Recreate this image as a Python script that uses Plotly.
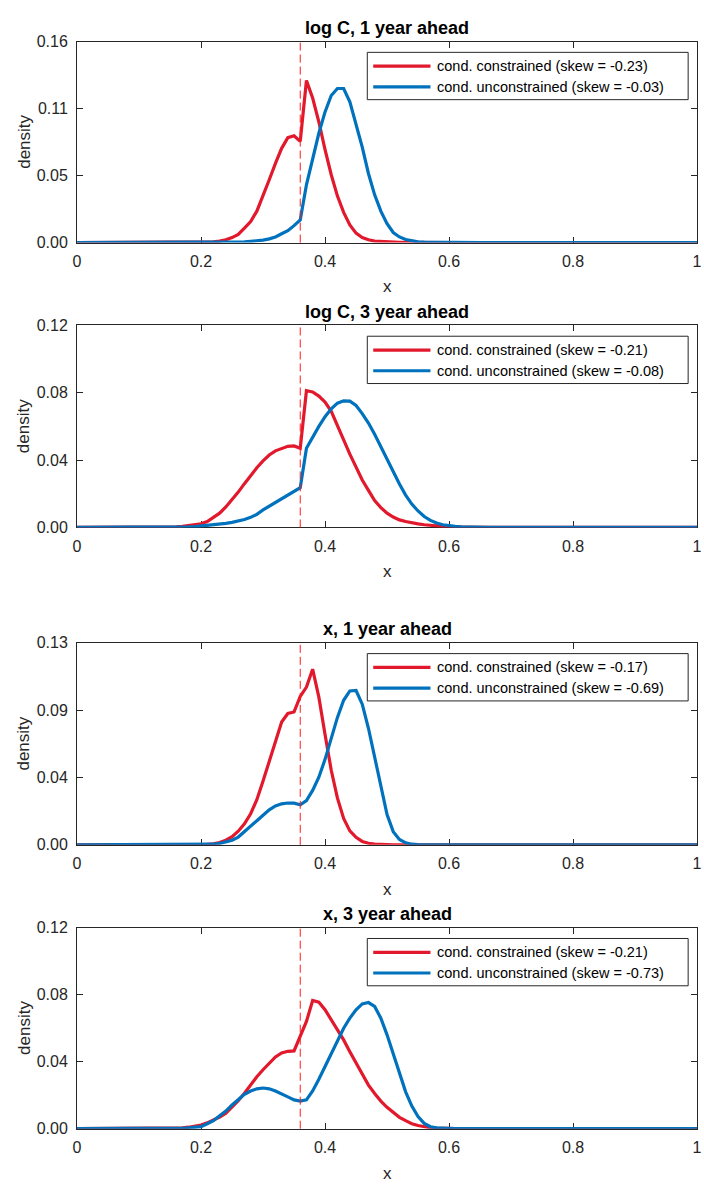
import numpy as np
import plotly.graph_objects as go

# ---------------- data ----------------
# common x grid: 0, 0.14 ... 0.68 (step 0.01), 1
x_grid = [0.00] + [round(0.14 + 0.01 * i, 2) for i in range(55)] + [1.00]

panel_titles = ["log C, 1 year ahead", "log C, 3 year ahead", "x, 1 year ahead", "x, 3 year ahead"]
threshold = 0.36
y_max = [0.16, 0.12, 0.13, 0.12]
ytick_text = [
    ["0.00", "0.05", "0.11", "0.16"],
    ["0.00", "0.04", "0.08", "0.12"],
    ["0.00", "0.04", "0.09", "0.13"],
    ["0.00", "0.04", "0.08", "0.12"],
]
xtick_vals = [0, 0.2, 0.4, 0.6, 0.8, 1.0]
xtick_text = ["0", "0.2", "0.4", "0.6", "0.8", "1"]

skew_constrained = [-0.23, -0.21, -0.17, -0.21]
skew_unconstrained = [-0.03, -0.08, -0.69, -0.73]

logc1_constrained = [0.0,
    0, 0, 0, 0, 0.0001, 0.0002, 0.0003, 0.0004, 0.0006, 0.0012,
    0.0022, 0.004, 0.0065, 0.0115, 0.0167, 0.025, 0.037, 0.050, 0.063, 0.075,
    0.0835, 0.085, 0.0805, 0.129, 0.115, 0.096, 0.074, 0.054, 0.037, 0.024,
    0.014, 0.0075, 0.004, 0.0022, 0.0012, 0.0008, 0.0005, 0.0003, 0.0002, 0.0001,
    0, 0, 0, 0, 0, 0, 0, 0, 0, 0, 0, 0, 0, 0, 0,
    0.0]
logc1_unconstrained = [0.0,
    0, 0, 0, 0, 0, 0, 0, 0, 0, 0.0001,
    0.0002, 0.0002, 0.0003, 0.0006, 0.001, 0.0014, 0.002, 0.003, 0.0045, 0.007,
    0.0095, 0.0135, 0.018, 0.046, 0.067, 0.087, 0.104, 0.117, 0.1226, 0.1226,
    0.112, 0.095, 0.076, 0.055, 0.038, 0.025, 0.015, 0.008, 0.0045, 0.0024,
    0.0012, 0.0006, 0.0003, 0.0002, 0.0001, 0, 0, 0, 0, 0, 0, 0, 0, 0, 0,
    0.0]
logc3_constrained = [0.0,
    0.0001, 0.0002, 0.0004, 0.0007, 0.0011, 0.0016, 0.0022, 0.0035, 0.0058, 0.0085,
    0.0122, 0.0165, 0.021, 0.026, 0.031, 0.0355, 0.0395, 0.043, 0.0455, 0.047,
    0.0482, 0.0484, 0.047, 0.0812, 0.0805, 0.078, 0.0745, 0.069, 0.061, 0.052,
    0.0435, 0.0355, 0.0282, 0.022, 0.016, 0.0118, 0.0085, 0.0062, 0.0045, 0.0035,
    0.0027, 0.0021, 0.0016, 0.0012, 0.0008, 0.0005, 0.0003, 0.0002, 0.0001, 0,
    0, 0, 0, 0, 0,
    0.0]
logc3_unconstrained = [0.0,
    0, 0.0001, 0.0001, 0.0002, 0.0003, 0.0005, 0.0008, 0.0011, 0.0015, 0.0019,
    0.0024, 0.003, 0.0038, 0.0047, 0.006, 0.0078, 0.0104, 0.0126, 0.0148, 0.0171,
    0.0193, 0.0215, 0.0236, 0.047, 0.054, 0.060, 0.0658, 0.0705, 0.0738, 0.0752,
    0.075, 0.0724, 0.0676, 0.062, 0.0553, 0.0478, 0.0402, 0.0328, 0.0258, 0.0192,
    0.0139, 0.0098, 0.0065, 0.0042, 0.0026, 0.0016, 0.001, 0.0006, 0.0004, 0.0002,
    0.0001, 0, 0, 0, 0,
    0.0]
x1_constrained = [0.0,
    0, 0, 0, 0, 0, 0, 0.0001, 0.0003, 0.0007, 0.0015,
    0.003, 0.0052, 0.0088, 0.0135, 0.02, 0.029, 0.041, 0.054, 0.066, 0.079,
    0.0845, 0.0855, 0.0955, 0.1015, 0.113, 0.095, 0.071, 0.048, 0.030, 0.017,
    0.009, 0.0048, 0.0022, 0.001, 0.0005, 0.0002, 0.0001, 0, 0, 0,
    0, 0, 0, 0, 0, 0, 0, 0, 0, 0, 0, 0, 0, 0, 0,
    0.0]
x1_unconstrained = [0.0,
    0, 0, 0, 0, 0, 0, 0.0001, 0.0002, 0.0004, 0.0009,
    0.0018, 0.003, 0.005, 0.0083, 0.0118, 0.0155, 0.019, 0.0225, 0.025, 0.0264,
    0.0269, 0.0268, 0.0258, 0.0285, 0.035, 0.0435, 0.055, 0.068, 0.082, 0.093,
    0.099, 0.0993, 0.0905, 0.075, 0.056, 0.037, 0.0195, 0.0085, 0.0035, 0.0013,
    0.0004, 0.0001, 0, 0, 0, 0, 0, 0, 0, 0, 0, 0, 0, 0, 0,
    0.0]
x3_constrained = [0.0,
    0.0001, 0.0002, 0.0003, 0.0005, 0.0009, 0.0015, 0.0022, 0.0035, 0.005, 0.007,
    0.0093, 0.013, 0.0167, 0.0212, 0.0265, 0.031, 0.0352, 0.039, 0.0428, 0.0452,
    0.0462, 0.0464, 0.0555, 0.064, 0.0765, 0.0755, 0.071, 0.065, 0.059, 0.053,
    0.046, 0.039, 0.0325, 0.026, 0.021, 0.0165, 0.0128, 0.0095, 0.0068, 0.0048,
    0.003, 0.0019, 0.0011, 0.0006, 0.0003, 0.0001, 0, 0, 0, 0,
    0, 0, 0, 0, 0,
    0.0]
x3_unconstrained = [0.0,
    0, 0.0001, 0.0002, 0.0003, 0.0005, 0.0008, 0.0012, 0.003, 0.0048, 0.0078,
    0.0105, 0.0142, 0.0176, 0.0205, 0.0225, 0.0238, 0.0243, 0.0238, 0.0225, 0.021,
    0.019, 0.0172, 0.0165, 0.0172, 0.0225, 0.0295, 0.037, 0.044, 0.052, 0.06,
    0.066, 0.071, 0.0745, 0.0753, 0.073, 0.066, 0.056, 0.0445, 0.033, 0.022,
    0.0135, 0.0072, 0.0032, 0.0012, 0.0005, 0.0002, 0.0001, 0, 0, 0,
    0, 0, 0, 0, 0,
    0.0]

constrained = [logc1_constrained, logc3_constrained, x1_constrained, x3_constrained]
unconstrained = [logc1_unconstrained, logc3_unconstrained, x1_unconstrained, x3_unconstrained]

# ---------------- style / layout ----------------
W, H = 704, 1187
RED = "#E2192C"
BLUE = "#0072BD"
DASH_RED = "#FF1A1A"
AXC = "#262626"
FONT = "Liberation Sans, Arial, Helvetica, sans-serif"

AX_L, AX_R = 74, 702
tops = [34, 322, 644, 933]
bottoms = [238, 527, 849, 1137]


def px(xp):
    return xp / W


def py(yp):
    return 1 - yp / H


fig = go.Figure()
shapes = []
annotations = []

for i in range(4):
    n = "" if i == 0 else str(i + 1)
    xa, ya = "x" + n, "y" + n
    fig.add_trace(go.Scatter(x=x_grid, y=constrained[i], mode="lines",
                             line=dict(color=RED, width=3.2), xaxis=xa, yaxis=ya,
                             showlegend=False, hoverinfo="skip"))
    fig.add_trace(go.Scatter(x=x_grid, y=unconstrained[i], mode="lines",
                             line=dict(color=BLUE, width=3.2), xaxis=xa, yaxis=ya,
                             showlegend=False, hoverinfo="skip"))
    axis_common = dict(showline=True, linecolor=AXC, linewidth=1, mirror="ticks",
                       ticks="inside", ticklen=6, tickcolor=AXC, tickwidth=1,
                       showgrid=False, zeroline=False, layer="below traces",
                       tickfont=dict(family=FONT, size=16, color=AXC))
    fig.update_layout(**{
        "xaxis" + n: dict(domain=[px(AX_L), px(AX_R)], range=[0, 1], anchor=ya,
                          tickvals=xtick_vals, ticktext=xtick_text,
                          ticklabelstandoff=4, ticklabeloverflow="allow", **axis_common),
        "yaxis" + n: dict(domain=[py(bottoms[i]), py(tops[i])], range=[0, y_max[i]], anchor=xa,
                          tickvals=list(np.linspace(0, y_max[i], 4)), ticktext=ytick_text[i],
                          ticklabelstandoff=5, ticklabeloverflow="allow", **axis_common),
    })
    # threshold dashed line
    shapes.append(dict(type="line", xref=xa, yref=ya + " domain", x0=threshold, x1=threshold,
                       y0=0, y1=1, line=dict(color=DASH_RED, width=1, dash="8px,4px")))
    # title
    annotations.append(dict(text="<b>" + panel_titles[i] + "</b>", xref="paper", yref="paper",
                            x=px((AX_L + AX_R) / 2), y=py(tops[i] - 14), showarrow=False,
                            xanchor="center", yanchor="middle",
                            font=dict(family=FONT, size=18, color="black")))
    # axis titles
    annotations.append(dict(text="x", xref="paper", yref="paper",
                            x=px((AX_L + AX_R) / 2), y=py(bottoms[i] + 45), showarrow=False,
                            xanchor="center", yanchor="middle",
                            font=dict(family=FONT, size=17, color=AXC)))
    annotations.append(dict(text="density", xref="paper", yref="paper", textangle=-90,
                            x=px(20), y=py((tops[i] + bottoms[i]) / 2), showarrow=False,
                            xanchor="center", yanchor="middle",
                            font=dict(family=FONT, size=17, color=AXC)))
    # legend box
    t = tops[i]
    shapes.append(dict(type="rect", xref="paper", yref="paper",
                       x0=px(368), x1=px(693), y0=py(t + 59), y1=py(t + 11),
                       line=dict(color=AXC, width=1), fillcolor="white", layer="above"))
    labels = ["cond. constrained (skew = %.2f)" % skew_constrained[i],
              "cond. unconstrained (skew = %.2f)" % skew_unconstrained[i]]
    for k, (col, lab) in enumerate(zip([RED, BLUE], labels)):
        yy = t + 25 + 21 * k
        shapes.append(dict(type="line", xref="paper", yref="paper",
                           x0=px(374), x1=px(432), y0=py(yy), y1=py(yy),
                           line=dict(color=col, width=3.2), layer="above"))
        annotations.append(dict(text=lab, xref="paper", yref="paper", x=px(437), y=py(yy),
                                showarrow=False, xanchor="left", yanchor="middle",
                                font=dict(family=FONT, size=14.5, color="black")))

fig.update_layout(width=W, height=H, margin=dict(l=0, r=0, t=0, b=0),
                  paper_bgcolor="white", plot_bgcolor="white",
                  shapes=shapes, annotations=annotations, showlegend=False)

fig.write_html("out.html")
